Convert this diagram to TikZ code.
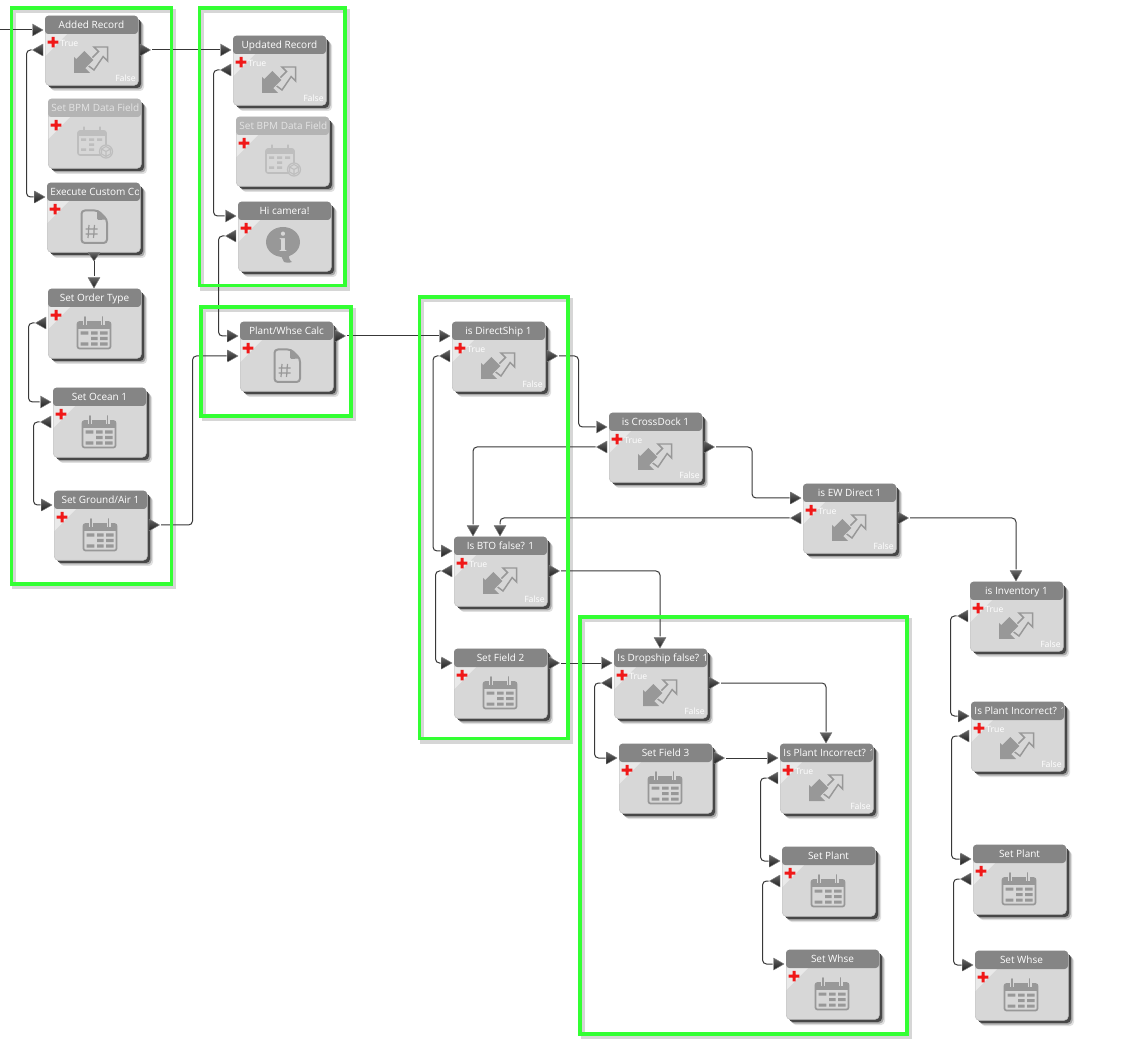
\documentclass[tikz,border=0pt]{standalone}
\usepackage{fontspec}
\setmainfont{Open Sans}
\newfontfamily\serifi{Liberation Serif}
\definecolor{hdr}{HTML}{858585}
\definecolor{ico}{HTML}{989898}
\definecolor{ttl}{HTML}{FFFFFF}
\definecolor{hdroff}{HTML}{B4B4B4}
\definecolor{icooff}{HTML}{BEBEBE}
\definecolor{ttloff}{HTML}{E4E4E4}
\definecolor{bodyc}{HTML}{D7D7D7}
\definecolor{cornerc}{HTML}{E9E9E9}
\definecolor{gframe}{HTML}{33FF33}
\definecolor{plusc}{HTML}{F01818}
\tikzset{
  nodebody/.style={draw=black!24,line width=0.4pt,fill=bodyc,rounded corners=3pt,inner sep=0pt,minimum width=69.75pt,minimum height=51.75pt,anchor=north west},
  titletext/.style={inner sep=0pt,text=ttl,text height=6pt,text depth=1.7pt,font=\fontsize{7.5}{9}\selectfont},
  smalltext/.style={inner sep=0pt,text=white,font=\fontsize{6.5}{7}\selectfont},
  conn/.style={draw=black!78,line width=0.75pt,rounded corners=3pt},
  tri/.style={top color=black!60,bottom color=black!88,draw=black!50,line width=0.35pt,line join=round},
  greenbox/.style={draw=gframe,line width=2.7pt,line join=miter},
  greenshadow/.style={draw=black!16,line width=2.7pt},
  icoline/.style={draw=ico,line width=1.2pt,line join=round},
  icofill/.style={fill=ico}
}
\newif\iflefttitle
\newcommand{\pin}{\shade[tri] (-12.5,8) -- (-2,14) -- (-12.5,20) -- cycle; \coordinate (\nn-in) at (-13.5,14);}
\newcommand{\pinb}{\shade[tri] (-12.5,28) -- (-2,34) -- (-12.5,40) -- cycle; \coordinate (\nn-inb) at (-13.5,34);}
\newcommand{\pbk}{\shade[tri] (-2,28) -- (-12.5,34) -- (-2,40) -- cycle; \coordinate (\nn-bk) at (-13.5,34);}
\newcommand{\pout}{\shade[tri] (95,28) -- (105.5,34) -- (95,40) -- cycle; \coordinate (\nn-out) at (107,34);}
\newcommand{\poutb}{\shade[tri] (95,8) -- (105.5,14) -- (95,20) -- cycle; \coordinate (\nn-out) at (107,14);}
\newcommand{\ptop}[2]{\shade[tri] (#2-6,-11.5) -- (#2,-1) -- (#2+6,-11.5) -- cycle; \coordinate (\nn-#1) at (#2,-12.5);}
\newcommand{\pbot}{\shade[tri] (41,69.5) -- (47,78) -- (53,69.5) -- cycle; \coordinate (\nn-bot) at (47,78);}
\newcommand{\tf}{\node[smalltext,anchor=west,text height=4.8pt,text depth=0pt] (\nn-true) at (15,27.5) {True}; \node[smalltext,anchor=east,text height=4.8pt,text depth=0pt] (\nn-false) at (91,62) {False};}
\newcommand{\icdec}{%
  \draw[draw=ico,fill=bodyc,line width=1.1pt,line join=miter] (62.7,31) -- (49,31) -- (53.5,35.5) -- (41,48) -- (49,54) -- (58.2,40.5) -- (62.7,45) -- cycle;
  \filldraw[fill=ico,draw=bodyc,line width=1.3pt,line join=miter] (29,57) -- (29,41) -- (31.2,43.2) -- (39.3,35) -- (48.3,44) -- (40.2,52.2) -- (45,57) -- cycle;
  \fill[ico] (29,57) -- (29,41) -- (31.2,43.2) -- (39.3,35) -- (48.3,44) -- (40.2,52.2) -- (45,57) -- cycle;}
\newcommand{\iccal}{%
  \draw[icoline,line width=1.3pt,rounded corners=1.5pt] (29.5,33) rectangle (62.5,59.5);
  \fill[ico] (29.5,33) rectangle (62.5,40);
  \draw[draw=bodyc,line width=3pt] (37,27.5) -- (37,36) (54.5,27.5) -- (54.5,36);
  \draw[draw=ico,line width=1.2pt,line cap=round] (37,28) -- (37,36) (54.5,28) -- (54.5,36);
  \fill[ico] (32.7,42.5) rectangle (40.3,45.7) (43,42.5) rectangle (49.7,45.7) (52,42.5) rectangle (59.7,45.7)
             (43,48) rectangle (49.7,51.2) (52,48) rectangle (59.7,51.2)
             (32.7,53.5) rectangle (40.3,56.7) (43,53.5) rectangle (49.7,56.7) (52,53.5) rectangle (59.7,56.7);}
\newcommand{\iccube}{%
  \draw[icoline,rounded corners=1.5pt] (30,32) rectangle (58,56);
  \fill[ico] (30,32) rectangle (58,37);
  \draw[draw=ico,line width=0.9pt,line cap=round] (36,28) -- (36,34) (52,28) -- (52,34);
  \fill[ico] (33,39.5) rectangle (38,42) (41,39.5) rectangle (46,42) (49,39.5) rectangle (54,42)
             (41,44.5) rectangle (46,47) (33,49.5) rectangle (38,52) (41,49.5) rectangle (46,52);
  \draw[draw=ico,fill=bodyc,line width=0.9pt] (58,52.5) circle (6.5);
  \draw[draw=ico,line width=0.8pt,line join=round] (58,47.5) -- (62.5,50) -- (62.5,55) -- (58,57.5) -- (53.5,55) -- (53.5,50) -- cycle (53.5,50) -- (58,52.5) -- (62.5,50) (58,52.5) -- (58,57.5);}
\newcommand{\icfile}{%
  \draw[icoline,line width=1.5pt,rounded corners=2.5pt] (34.5,27.5) -- (51,27.5) -- (60,36.5) -- (60,60) -- (34.5,60) -- cycle;
  \fill[ico,rounded corners=1pt] (50,27.5) -- (60,36.5) -- (50,37) -- cycle;
  \draw[draw=ico,line width=0.9pt] (42,42) -- (41,55) (47.5,42) -- (46.5,55) (38.5,46) -- (50.5,46) (38.5,51) -- (50.5,51);}
\newcommand{\icinfo}{%
  \fill[ico] (45,40) ellipse (17 and 15);
  \fill[ico] (42,52) -- (46,60) .. controls (50,61) and (52,61) .. (54,60) .. controls (51,58) and (50,55) .. (52,50) -- cycle;
  \node[inner sep=0pt,text=bodyc,font=\serifi\bfseries\fontsize{21}{21}\selectfont] (\nn-i) at (45,40) {i};}
% #1 name #2 x #3 y #4 title #5 icon #6 ports
\newcommand{\flownode}[6]{%
  \def\nn{#1}%
  \begin{scope}[shift={(#2,#3)}]
    \fill[black!12,rounded corners=3pt] (6,6) rectangle (99,75);
    \fill[black!35,rounded corners=3pt] (4.5,4.5) rectangle (97.5,73.5);
    \fill[black!72,rounded corners=3pt] (3,3) rectangle (96,72);
    \node[nodebody] (#1) at (0,0) {};
    \fill[cornerc] (0.5,18) -- (22,18) -- (0.5,40) -- cycle;
    \fill[hdr,rounded corners=2.5pt] (0,-0.3) rectangle (93,18);
    \begin{scope}
      \clip (0,-1) rectangle (91,19);
      \iflefttitle
        \node[titletext,anchor=west] (#1-t) at (3.2,10) {#4};
      \else
        \node[titletext] (#1-t) at (46.5,10) {#4};
      \fi
    \end{scope}
    \fill[plusc] (2.7,24.6) rectangle (13.3,27.6) (6.5,20.8) rectangle (9.5,31.4);
    #5
    #6
  \end{scope}}
\newcommand{\flownodeoff}[6]{\begingroup\colorlet{hdr}{hdroff}\colorlet{ico}{icooff}\colorlet{ttl}{ttloff}\flownode{#1}{#2}{#3}{#4}{#5}{#6}\endgroup}
\begin{document}
\begin{tikzpicture}[x=0.75pt,y=-0.75pt]
\useasboundingbox (0,0) rectangle (1125,1044);
\fill[white] (0,0) rectangle (1125,1044);
% frame shadows
\draw[greenshadow] (14,11) rectangle (174,587);
\draw[greenshadow] (202,11) rectangle (348,289);
\draw[greenshadow] (204,310) rectangle (354,419);
\draw[greenshadow] (422,300) rectangle (571,742);
\draw[greenshadow] (583,620) rectangle (910,1037);
% nodes
\flownode{added}{45}{16}{Added Record}{\icdec}{\pin\pbk\pout\tf}
\lefttitletrue
\flownodeoff{bpma}{48}{99}{Set BPM Data Field}{\iccube}{}
\flownode{exec}{47}{183}{Execute Custom Co}{\icfile}{\pin\pbot}
\lefttitlefalse
\flownode{order}{48}{289}{Set Order Type}{\iccal}{\ptop{top}{46}\pbk}
\flownode{ocean}{53}{388}{Set Ocean 1}{\iccal}{\pin\pbk}
\flownode{ground}{54}{491}{Set Ground/Air 1}{\iccal}{\pin\pout}
\flownode{updated}{233}{36}{Updated Record}{\icdec}{\pin\pbk\tf}
\lefttitletrue
\flownodeoff{bpmb}{236}{117}{Set BPM Data Field}{\iccube}{}
\lefttitlefalse
\flownode{hi}{238}{202}{Hi camera!}{\icinfo}{\pin\pbk}
\flownode{plant}{240}{322}{Plant/Whse Calc}{\icfile}{\pin\pinb\poutb}
\flownode{direct}{452}{322}{is DirectShip 1}{\icdec}{\pin\pbk\pout\tf}
\flownode{cross}{609}{413}{is CrossDock 1}{\icdec}{\pin\pbk\pout\tf}
\flownode{ew}{803}{484}{is EW Direct 1}{\icdec}{\pin\pbk\pout\tf}
\flownode{bto}{454}{537}{Is BTO false? 1}{\icdec}{\ptop{topa}{19}\ptop{topb}{46}\pin\pbk\pout\tf}
\flownode{fieldb}{454}{649}{Set Field 2}{\iccal}{\pin\poutb}
\lefttitletrue
\flownode{drop}{614}{649}{Is Dropship false? 1}{\icdec}{\ptop{top}{46}\pin\pbk\pout\tf}
\lefttitlefalse
\flownode{fieldc}{619}{744}{Set Field 3}{\iccal}{\pin\poutb}
\lefttitletrue
\flownode{pia}{780}{744}{Is Plant Incorrect? 1}{\icdec}{\ptop{top}{46}\pin\pbk\tf}
\lefttitlefalse
\flownode{spa}{782}{847}{Set Plant}{\iccal}{\pin\pbk}
\flownode{swa}{786}{950}{Set Whse}{\iccal}{\pin}
\flownode{inv}{970}{582}{is Inventory 1}{\icdec}{\ptop{top}{46}\pbk\tf}
\lefttitletrue
\flownode{pib}{971}{702}{Is Plant Incorrect? 1}{\icdec}{\pin\pbk\tf}
\lefttitlefalse
\flownode{spb}{973}{845}{Set Plant}{\iccal}{\pin\pbk}
\flownode{swb}{975}{951}{Set Whse}{\iccal}{\pin}
% connectors
\coordinate (entry) at (0,30);
\draw[conn] (entry) -- (added-in);
\draw[conn] (added-out) -- (updated-in);
\draw[conn] (added-bk) -- ++(-5,0) |- (exec-in);
\draw[conn] (exec-bot) -- (order-top);
\draw[conn] (order-bk) -- ++(-6,0) |- (ocean-in);
\draw[conn] (ocean-bk) -- ++(-6,0) |- (ground-in);
\draw[conn] (ground-out) -- ++(31.5,0) |- (plant-inb);
\draw[conn] (updated-bk) -- ++(-6,0) |- (hi-in);
\draw[conn] (hi-bk) -- ++(-6,0) |- (plant-in);
\draw[conn] (plant-out) -- (direct-in);
\draw[conn] (direct-bk) -- ++(-5.5,0) |- (bto-in);
\draw[conn] (direct-out) -- ++(19.5,0) |- (cross-in);
\draw[conn] (cross-bk) -| (bto-topa);
\draw[conn] (cross-out) -- ++(36,0) |- (ew-in);
\draw[conn] (ew-bk) -| (bto-topb);
\draw[conn] (ew-out) -| (inv-top);
\draw[conn] (bto-bk) -- ++(-5,0) |- (fieldb-in);
\draw[conn] (bto-out) -| (drop-top);
\draw[conn] (fieldb-out) -- (drop-in);
\draw[conn] (drop-bk) -- ++(-6,0) |- (fieldc-in);
\draw[conn] (drop-out) -| (pia-top);
\draw[conn] (fieldc-out) -- (pia-in);
\draw[conn] (pia-bk) -- ++(-6,0) |- (spa-in);
\draw[conn] (spa-bk) -- ++(-6,0) |- (swa-in);
\draw[conn] (inv-bk) -- ++(-6,0) |- (pib-in);
\draw[conn] (pib-bk) -- ++(-6,0) |- (spb-in);
\draw[conn] (spb-bk) -- ++(-6,0) |- (swb-in);
% frames
\draw[greenbox] (11.5,8) rectangle (171.5,584);
\draw[greenbox] (199.5,8) rectangle (345,285.5);
\draw[greenbox] (201,307) rectangle (351,416);
\draw[greenbox] (419.5,297) rectangle (568,738.5);
\draw[greenbox] (580,617) rectangle (907,1034);
\end{tikzpicture}
\end{document}
